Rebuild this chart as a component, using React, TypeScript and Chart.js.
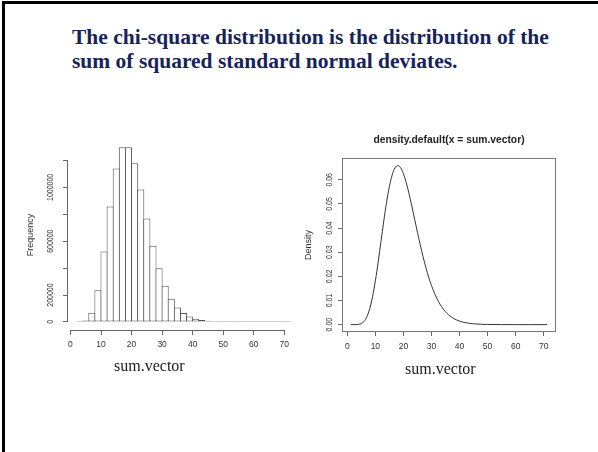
import React, { useEffect, useRef } from "react";
import { Chart, registerables } from "chart.js";

Chart.register(...registerables);

// ---------- text ----------
const slideTitleLines = [
  "The chi-square distribution is the distribution of the",
  "sum of squared standard normal deviates.",
];
const xAxisLabel = "sum.vector";
const histYTitle = "Frequency";
const densYTitle = "Density";
const densTitle = "density.default(x = sum.vector)";

// ---------- histogram ----------
const histBinWidth = 2;
const histBinLeft = [
  2, 4, 6, 8, 10, 12, 14, 16, 18, 20, 22, 24, 26, 28, 30, 32, 34, 36, 38, 40,
  42, 44, 46, 48, 50, 52, 54, 56, 58, 60, 62, 64, 66, 68, 70,
];
const histFreq = [
  300, 11000, 68000, 236000, 524000, 858000, 1141000, 1298000, 1298000, 1179000,
  985000, 769000, 566000, 398000, 268000, 173000, 107000, 66000, 40000, 24000,
  14000, 8000, 4300, 2300, 1200, 640, 330, 170, 85, 42, 20, 10, 5, 2, 1,
];
const histXTicks = [0, 10, 20, 30, 40, 50, 60, 70];
const histXTickLabels = ["0", "10", "20", "30", "40", "50", "60", "70"];
const histYTicks = [0, 200000, 400000, 600000, 800000, 1000000, 1200000];
const histYTickLabels = ["0", "200000", "", "600000", "", "1000000", ""];

// ---------- density ----------
const densX = [
  1.27, 2, 3, 4, 5, 6, 7, 8, 9, 10, 11, 12, 13, 14, 15, 16, 17, 18, 19, 20, 21,
  22, 23, 24, 25, 26, 27, 28, 29, 30, 32, 34, 36, 38, 40, 42, 45, 50, 55, 60,
  65, 71.2,
];
const densY = [
  0, 0.0000005, 0.0000118, 0.000095, 0.00043, 0.00135, 0.00328, 0.00661,
  0.01158, 0.01813, 0.02593, 0.03442, 0.0429, 0.0507, 0.05722, 0.06204,
  0.06493, 0.06589, 0.065, 0.06255, 0.05886, 0.05426, 0.0491, 0.04368,
  0.03826, 0.03303, 0.02813, 0.02367, 0.01969, 0.0162, 0.01066, 0.00676,
  0.00416, 0.00249, 0.00145, 0.00083, 0.000345, 0.000073, 0.000014, 0.0000025,
  0.0000004, 0,
];
const densXTicks = [0, 10, 20, 30, 40, 50, 60, 70];
const densXTickLabels = ["0", "10", "20", "30", "40", "50", "60", "70"];
const densYTicks = [0, 0.01, 0.02, 0.03, 0.04, 0.05, 0.06];
const densYTickLabels = ["0.00", "0.01", "0.02", "0.03", "0.04", "0.05", "0.06"];

const SANS = '"Liberation Sans", Arial, Helvetica, sans-serif';
const SERIF = '"Liberation Serif", "Times New Roman", serif';

// R-style rotated y tick labels (drawn at the scale's own tick positions)
const rotatedYTicks = {
  id: "rotatedYTicks",
  afterDraw(chart: any, _args: any, opts: any) {
    const scale = chart.scales.y;
    const ctx = chart.ctx;
    ctx.save();
    ctx.font = `${opts.size}px ${SANS}`;
    ctx.fillStyle = opts.color;
    ctx.textAlign = "center";
    ctx.textBaseline = "middle";
    scale.ticks.forEach((t: any, i: number) => {
      const label = opts.labels[i];
      if (!label) return;
      const y = scale.getPixelForValue(t.value);
      ctx.save();
      ctx.translate(chart.chartArea.left - opts.offset, y);
      ctx.rotate(-Math.PI / 2);
      ctx.scale(opts.squeeze, 1);
      ctx.fillText(label, 0, 0);
      ctx.restore();
    });
    ctx.restore();
  },
};

// R-style axis lines spanning the first..last tick
const rAxes = {
  id: "rAxes",
  afterDraw(chart: any, _args: any, opts: any) {
    const ctx = chart.ctx;
    const { x, y } = chart.scales;
    const area = chart.chartArea;
    ctx.save();
    ctx.strokeStyle = opts.color;
    ctx.lineWidth = 1;
    ctx.beginPath();
    const xt = x.ticks;
    ctx.moveTo(x.getPixelForValue(xt[0].value), area.bottom + 0.5);
    ctx.lineTo(x.getPixelForValue(xt[xt.length - 1].value), area.bottom + 0.5);
    const yt = y.ticks;
    ctx.moveTo(area.left - 0.5, y.getPixelForValue(yt[0].value));
    ctx.lineTo(area.left - 0.5, y.getPixelForValue(yt[yt.length - 1].value));
    ctx.stroke();
    ctx.restore();
  },
};

// R-style box around the plot region
const rBox = {
  id: "rBox",
  afterDraw(chart: any, _args: any, opts: any) {
    const ctx = chart.ctx;
    const a = chart.chartArea;
    ctx.save();
    ctx.strokeStyle = opts.color;
    ctx.lineWidth = 1;
    ctx.strokeRect(a.left - 0.5, a.top - 0.5, a.right - a.left + 1, a.bottom - a.top + 1);
    ctx.restore();
  },
};

export default function App() {
  const histRef = useRef<HTMLCanvasElement>(null);
  const densRef = useRef<HTMLCanvasElement>(null);

  useEffect(() => {
    const charts: Chart[] = [];
    if (histRef.current) {
      charts.push(
        new Chart(histRef.current, {
          type: "bar",
          data: {
            datasets: [
              {
                data: histBinLeft.map((l, i) => ({ x: l + histBinWidth / 2, y: histFreq[i] })),
                backgroundColor: "#ffffff",
                borderColor: "#555555",
                borderWidth: 1,
                borderSkipped: false,
                barPercentage: 1.1636,
                categoryPercentage: 1,
                inflateAmount: 0,
                minBarLength: 1,
              } as any,
            ],
          },
          options: {
            responsive: false,
            animation: false,
            events: [],
            layout: { padding: { top: 20, right: 6, bottom: 0, left: 0 } },
            plugins: {
              legend: { display: false },
              tooltip: { enabled: false },
              rotatedYTicks: { labels: histYTickLabels, offset: 17, size: 8.5, squeeze: 0.82, color: "#333" },
              rAxes: { color: "#666" },
            } as any,
            scales: {
              x: {
                type: "linear",
                offset: false,
                min: -0.8,
                max: 74.8,
                afterBuildTicks: (s: any) => {
                  s.ticks = histXTicks.map((v) => ({ value: v }));
                },
                afterFit: (s: any) => {
                  s.height = 30;
                },
                grid: {
                  display: true,
                  offset: false,
                  drawOnChartArea: false,
                  drawTicks: true,
                  tickLength: 5,
                  color: "#666",
                },
                border: { display: false },
                ticks: {
                  autoSkip: false,
                  maxRotation: 0,
                  minRotation: 0,
                  padding: 5,
                  color: "#333",
                  font: { family: SANS, size: 8.5 },
                  callback: (v: any) => histXTickLabels[histXTicks.indexOf(v)] ?? "",
                },
              },
              y: {
                type: "linear",
                min: -60000,
                max: 1352000,
                afterBuildTicks: (s: any) => {
                  s.ticks = histYTicks.map((v) => ({ value: v }));
                },
                afterFit: (s: any) => {
                  s.width = 68;
                },
                grid: { display: true, drawOnChartArea: false, drawTicks: true, tickLength: 5, color: "#666" },
                border: { display: false },
                ticks: { display: false },
                title: {
                  display: true,
                  text: histYTitle,
                  color: "#333",
                  font: { family: SANS, size: 9, lineHeight: 1.2 },
                  padding: { top: 25.5, bottom: 0 },
                },
              },
            } as any,
          },
          plugins: [rotatedYTicks, rAxes],
        })
      );
    }
    if (densRef.current) {
      charts.push(
        new Chart(densRef.current, {
          type: "line",
          data: {
            datasets: [
              {
                data: densX.map((x, i) => ({ x, y: densY[i] })),
                borderColor: "#333333",
                borderWidth: 1,
                pointRadius: 0,
                fill: false,
                cubicInterpolationMode: "monotone",
              },
            ],
          },
          options: {
            responsive: false,
            animation: false,
            events: [],
            layout: { padding: { top: 0, right: 43, bottom: 0, left: 0 } },
            plugins: {
              legend: { display: false },
              tooltip: { enabled: false },
              title: {
                display: true,
                text: densTitle,
                fullSize: false,
                color: "#222",
                font: { family: SANS, size: 10.3, weight: "bold", lineHeight: 1.2 },
                padding: { top: 14, bottom: 12.6 },
              },
              rotatedYTicks: { labels: densYTickLabels, offset: 13.5, size: 8.5, squeeze: 0.82, color: "#333" },
              rBox: { color: "#777" },
            } as any,
            scales: {
              x: {
                type: "linear",
                offset: false,
                min: -1.53,
                max: 74.02,
                afterBuildTicks: (s: any) => {
                  s.ticks = densXTicks.map((v) => ({ value: v }));
                },
                afterFit: (s: any) => {
                  s.height = 39;
                },
                grid: { display: true, drawOnChartArea: false, drawTicks: true, tickLength: 5, color: "#666" },
                border: { display: false },
                ticks: {
                  autoSkip: false,
                  maxRotation: 0,
                  minRotation: 0,
                  padding: 5.5,
                  color: "#333",
                  font: { family: SANS, size: 8.5 },
                  callback: (v: any) => densXTickLabels[densXTicks.indexOf(v)] ?? "",
                },
              },
              y: {
                type: "linear",
                min: -0.00264,
                max: 0.06864,
                afterBuildTicks: (s: any) => {
                  s.ticks = densYTicks.map((v) => ({ value: v }));
                },
                afterFit: (s: any) => {
                  s.width = 43;
                },
                grid: { display: true, drawOnChartArea: false, drawTicks: true, tickLength: 5, color: "#666" },
                border: { display: false },
                ticks: { display: false },
                title: {
                  display: true,
                  text: densYTitle,
                  color: "#333",
                  font: { family: SANS, size: 9, lineHeight: 1.2 },
                  padding: { top: 3, bottom: 0 },
                },
              },
            } as any,
          },
          plugins: [rotatedYTicks, rBox],
        })
      );
    }
    return () => charts.forEach((c) => c.destroy());
  }, []);

  const xLabelStyle: React.CSSProperties = {
    position: "absolute",
    fontFamily: SERIF,
    fontSize: 16,
    lineHeight: "16px",
    color: "#1a1a1a",
    whiteSpace: "nowrap",
  };

  return (
    <div style={{ position: "absolute", left: 0, top: 0, width: 598, height: 452, background: "#fff", overflow: "hidden" }}>
      <div
        style={{
          position: "absolute",
          left: 2,
          top: 1,
          width: 596,
          height: 451,
          borderLeft: "3px solid #000",
          borderTop: "3px solid #000",
          boxSizing: "border-box",
        }}
      />
      <div
        style={{
          position: "absolute",
          left: 72,
          top: 26,
          fontFamily: SERIF,
          fontWeight: 700,
          fontSize: 21.5,
          lineHeight: "23.5px",
          color: "#17235a",
          whiteSpace: "nowrap",
        }}
      >
        {slideTitleLines.map((t, i) => (
          <div key={i}>{t}</div>
        ))}
      </div>
      <canvas
        ref={histRef}
        width={305}
        height={240}
        style={{ position: "absolute", left: 0, top: 120, width: 305, height: 240 }}
      />
      <canvas
        ref={densRef}
        width={298}
        height={250}
        style={{ position: "absolute", left: 300, top: 120, width: 298, height: 250 }}
      />
      <div style={{ ...xLabelStyle, left: 114, top: 358 }}>{xAxisLabel}</div>
      <div style={{ ...xLabelStyle, left: 405, top: 361 }}>{xAxisLabel}</div>
    </div>
  );
}
